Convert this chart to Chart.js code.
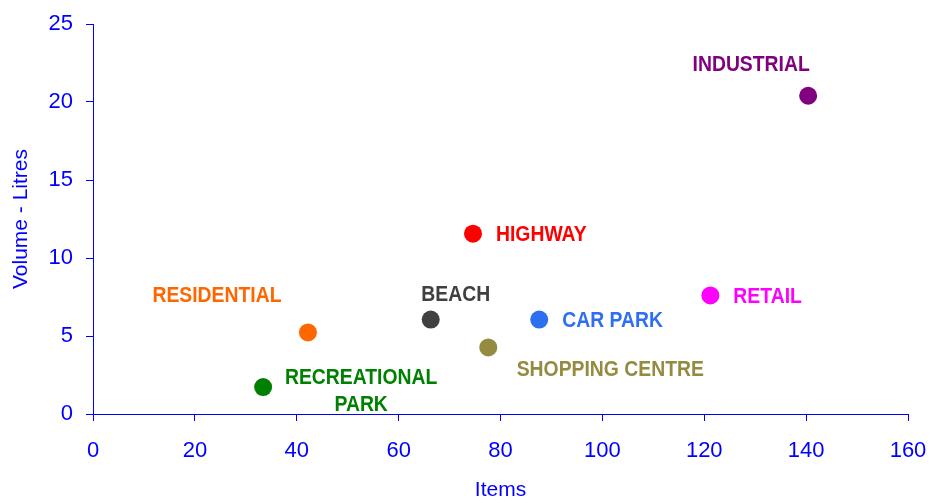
<!DOCTYPE html>
<html>
<head>
<meta charset="utf-8">
<script src="https://cdn.jsdelivr.net/npm/chart.js@4.4.1/dist/chart.umd.min.js"></script>
<style>
  html, body { margin: 0; padding: 0; background: #ffffff; }
  #wrap { width: 934px; height: 503px; position: relative; }
</style>
</head>
<body>
<div id="wrap"><canvas id="c" width="934" height="503"></canvas></div>
<script>
// ---- data ----
const categories = ['INDUSTRIAL', 'HIGHWAY', 'RETAIL', 'BEACH', 'CAR PARK', 'SHOPPING CENTRE', 'RESIDENTIAL', 'RECREATIONAL PARK'];
const itemsValues = [140.4, 74.6, 121.2, 66.3, 87.6, 77.6, 42.2, 33.4];
const volumeValues = [20.4, 11.56, 7.6, 6.05, 6.05, 4.27, 5.23, 1.73];
const xTickLabels = [0, 20, 40, 60, 80, 100, 120, 140, 160];
const yTickLabels = [0, 5, 10, 15, 20, 25];

// ---- styles ----
const pointColors = ['#800080', '#FF0000', '#FF00FF', '#404040', '#2E6FF2', '#948A40', '#FF6600', '#008000'];
const labelLines = [['INDUSTRIAL'], ['HIGHWAY'], ['RETAIL'], ['BEACH'], ['CAR PARK'], ['SHOPPING CENTRE'], ['RESIDENTIAL'], ['RECREATIONAL', 'PARK']];
const labelLayout = [
  { dx: -57, dy: -31, align: 'center' },
  { dx: 23, dy: 1, align: 'left' },
  { dx: 23, dy: 1, align: 'left' },
  { dx: 25, dy: -25, align: 'center' },
  { dx: 23, dy: 1, align: 'left' },
  { dx: 122, dy: 23, align: 'center' },
  { dx: -91, dy: -36, align: 'center' },
  { dx: 98, dy: -9.5, align: 'center', lineGap: 27 }
];
const AXIS_BLUE = '#0000FF';

const pointLabels = {
  id: 'pointLabels',
  afterDatasetsDraw(chart) {
    const ctx = chart.ctx;
    const meta = chart.getDatasetMeta(0);
    ctx.save();
    ctx.font = 'bold 22px "Liberation Sans", Arial, sans-serif';
    ctx.textBaseline = 'middle';
    meta.data.forEach((pt, i) => {
      const lay = labelLayout[i];
      ctx.fillStyle = pointColors[i];
      labelLines[i].forEach((line, j) => {
        ctx.save();
        ctx.translate(pt.x + lay.dx, pt.y + lay.dy + j * (lay.lineGap || 0));
        ctx.scale(0.88, 1);
        ctx.textAlign = lay.align;
        ctx.fillText(line, 0, 0);
        ctx.restore();
      });
    });
    ctx.restore();
  }
};

new Chart(document.getElementById('c'), {
  type: 'scatter',
  data: {
    datasets: [{
      label: 'Litter',
      data: itemsValues.map((x, i) => ({ x: x, y: volumeValues[i] })),
      pointBackgroundColor: pointColors,
      pointBorderColor: pointColors,
      pointBorderWidth: 0,
      pointRadius: 9,
      pointHoverRadius: 9
    }]
  },
  options: {
    responsive: false,
    animation: false,
    events: [],
    layout: { padding: { top: 24, right: 26, left: 0, bottom: 0 } },
    plugins: {
      legend: { display: false },
      tooltip: { enabled: false }
    },
    scales: {
      x: {
        type: 'linear',
        min: 0, max: 160,
        afterBuildTicks: (s) => { s.ticks = xTickLabels.map(v => ({ value: v })); },
        afterFit: (s) => { s.height = 89; s.paddingLeft = 0; s.paddingRight = 0; },
        border: { color: AXIS_BLUE, width: 1 },
        grid: { drawOnChartArea: false, drawTicks: true, tickLength: 7, color: AXIS_BLUE },
        ticks: { color: AXIS_BLUE, padding: 17, font: { family: '"Liberation Sans", Arial, sans-serif', size: 22 } },
        title: { display: true, text: 'Items', color: AXIS_BLUE, padding: { top: 0, bottom: 0 }, font: { family: '"Liberation Sans", Arial, sans-serif', size: 21 } }
      },
      y: {
        type: 'linear',
        min: 0, max: 25,
        afterBuildTicks: (s) => { s.ticks = yTickLabels.map(v => ({ value: v })); },
        afterFit: (s) => { s.width = 93; s.paddingTop = 0; s.paddingBottom = 0; },
        border: { color: AXIS_BLUE, width: 1 },
        grid: { drawOnChartArea: false, drawTicks: true, tickLength: 7, color: AXIS_BLUE },
        ticks: { color: AXIS_BLUE, padding: 13, font: { family: '"Liberation Sans", Arial, sans-serif', size: 22 } },
        title: { display: true, text: 'Volume - Litres', color: AXIS_BLUE, padding: { top: 9, bottom: 0 }, font: { family: '"Liberation Sans", Arial, sans-serif', size: 21 } }
      }
    }
  },
  plugins: [pointLabels]
});
</script>
</body>
</html>
